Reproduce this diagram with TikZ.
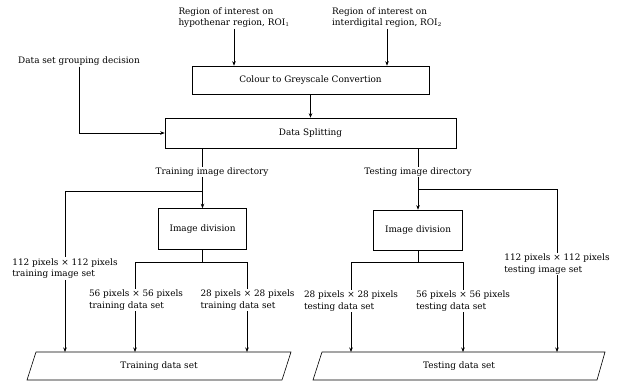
\documentclass[tikz,border=0pt]{standalone}
\usepackage{fontspec}
\setmainfont{DejaVu Serif}
\usetikzlibrary{arrows.meta}

\tikzset{
  box/.style={draw, line width=0.6pt, inner sep=0pt},
  lbl/.style={align=left, fill=white, inner sep=1pt},
  ln/.style={line width=0.6pt},
  arr/.style={line width=0.6pt, -{Stealth[length=4.5pt,width=3.5pt]}}
}

\begin{document}
\begin{tikzpicture}[x=1pt, y=-1pt, font=\fontsize{8.9}{11.5}\selectfont]

 \useasboundingbox (0,0) rectangle (617,381);

 %%%%%%%%%% Points pour travailler %%%%%%%%%%
 \coordinate (trj) at (202.5,191);
 \coordinate (tej) at (418,189);
 \coordinate (trk) at (202.5,262);
 \coordinate (tek) at (418,262);

 \coordinate (tr112) at (65,352);
 \coordinate (tr56) at (135,352);
 \coordinate (tr28) at (247,352);
 \coordinate (te28) at (351,352);
 \coordinate (te56) at (463,352);
 \coordinate (te112) at (557,352);

 \coordinate (trA) at (27,380);
 \coordinate (trB) at (36,352);
 \coordinate (trC) at (291,352);
 \coordinate (trD) at (282,380);

 \coordinate (teA) at (313,380);
 \coordinate (teB) at (322,352);
 \coordinate (teC) at (605,352);
 \coordinate (teD) at (597,380);

 %%%%%%%%%% Boites %%%%%%%%%%
 \node[box, minimum width=237pt, minimum height=28pt] (grey) at (310.5,80) {Colour to Greyscale Convertion};
 \node[box, minimum width=291pt, minimum height=30pt] (split) at (310.5,133) {Data Splitting};
 \node[box, minimum width=88pt, minimum height=41pt] (divtr) at (202.5,229) {Image division};
 \node[box, minimum width=89pt, minimum height=40pt] (divte) at (418,230) {Image division};

 \draw [ln] (trA) -- (trB) -- (trC) -- (trD) -- cycle ;
 \draw [ln] (teA) -- (teB) -- (teC) -- (teD) -- cycle ;
 \node (trset) at (159,366) {Training data set};
 \node (teset) at (459,366) {Testing data set};

 %%%%%%%%%% Entrees %%%%%%%%%%
 \node[align=left, inner sep=1pt] (roi1) at (234,17.5) {Region of interest on\\hypothenar region, ROI$_1$};
 \node[align=left, inner sep=1pt] (roi2) at (387,17.5) {Region of interest on\\interdigital region, ROI$_2$};
 \node[inner sep=1pt] (grp) at (79,61) {Data set grouping decision};

 \draw [arr] (roi1) -- (roi1 |- grey.north) ;
 \draw [arr] (roi2) -- (roi2 |- grey.north) ;
 \draw [arr] (grey.south) -- (split.north) ;
 \draw [arr] (grp.south) |- (split.west) ;

 %%%%%%%%%% Branche training %%%%%%%%%%
 \draw [ln] (split.south -| trj) -- (trj) ;
 \draw [arr] (trj) -- (divtr.north) ;
 \draw [arr] (trj) -| (tr112) ;
 \draw [ln] (divtr.south) -- (trk) ;
 \draw [arr] (trk) -| (tr56) ;
 \draw [arr] (trk) -| (tr28) ;

 %%%%%%%%%% Branche testing %%%%%%%%%%
 \draw [ln] (split.south -| tej) -- (tej) ;
 \draw [arr] (tej) -- (divte.north) ;
 \draw [arr] (tej) -| (te112) ;
 \draw [ln] (divte.south) -- (tek) ;
 \draw [arr] (tek) -| (te28) ;
 \draw [arr] (tek) -| (te56) ;

 %%%%%%%%%% Etiquettes %%%%%%%%%%
 \node[lbl] (trdir) at (212,172) {Training image directory};
 \node[lbl] (tedir) at (418,172) {Testing image directory};
 \node[lbl] (l112tr) at (65,268.5) {112 pixels × 112 pixels\\training image set};
 \node[lbl] (l56tr) at (136,300) {56 pixels × 56 pixels\\training data set};
 \node[lbl] (l28tr) at (247.5,300) {28 pixels × 28 pixels\\training data set};
 \node[lbl] (l28te) at (351,301) {28 pixels × 28 pixels\\testing data set};
 \node[lbl] (l56te) at (463,301) {56 pixels × 56 pixels\\testing data set};
 \node[lbl] (l112te) at (557,264) {112 pixels × 112 pixels\\testing image set};

\end{tikzpicture}
\end{document}
